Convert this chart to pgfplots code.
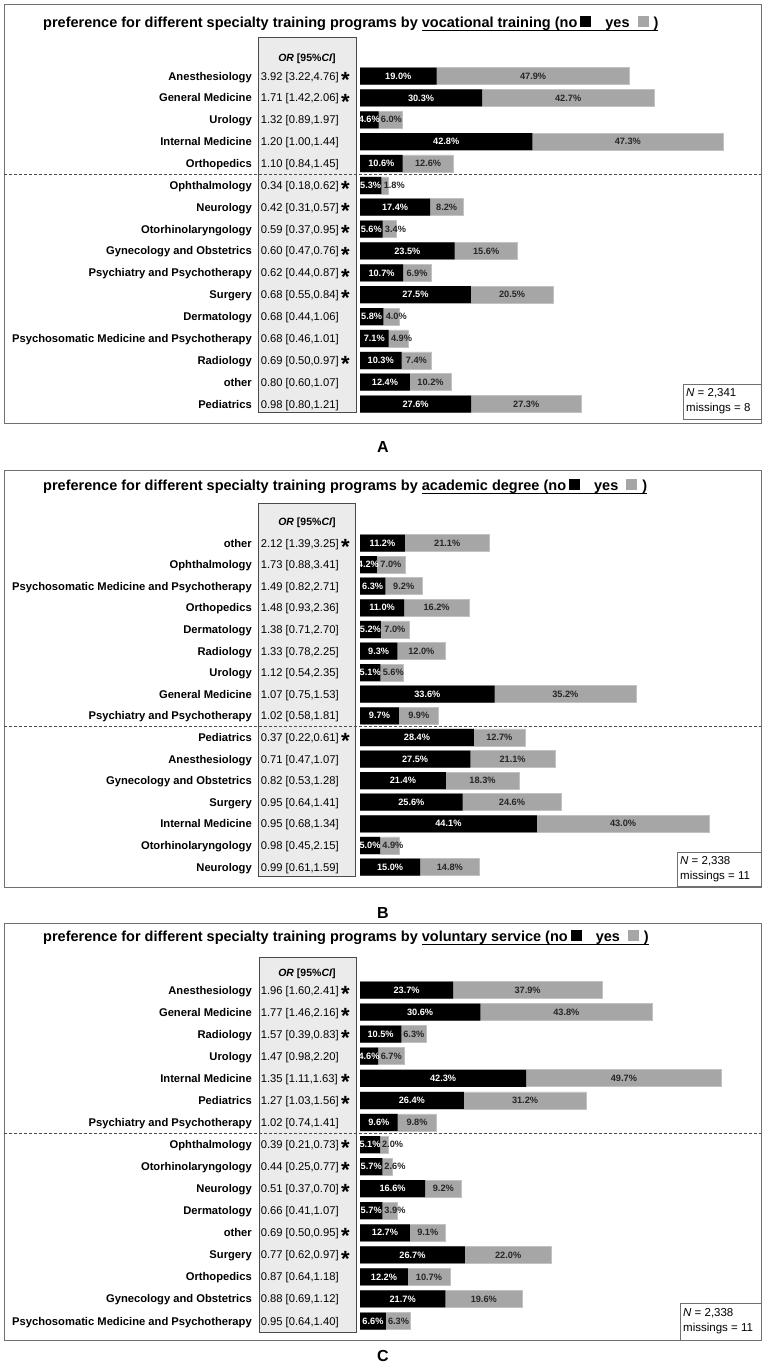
\documentclass[border=0pt]{standalone}
\usepackage{pgfplots}
\pgfplotsset{compat=1.18}
\usepackage{pgfplotstable}
\usepackage{fontspec}
\setmainfont{Liberation Sans}
\definecolor{barGray}{HTML}{A6A6A6}
\definecolor{barEdge}{HTML}{C2C2C2}
\definecolor{orFill}{HTML}{EBEBEB}
\definecolor{frame}{HTML}{707070}
\definecolor{orEdge}{HTML}{4A4A4A}
\newsavebox\ulbox
\newcommand{\ul}[1]{\sbox\ulbox{#1}\rlap{\rule[-3.5pt]{\wd\ulbox}{0.9pt}}\usebox\ulbox}
\newcommand{\st}{\raisebox{-7.2pt}[8pt][0pt]{\fontsize{22}{22}\selectfont\bfseries *}}
\newcommand{\R}[3]{\fontsize{11.2}{13}\selectfont\bfseries #1\hspace{9pt}\makebox[89pt][l]{\mdseries #2\hfill#3}}
\newcommand{\sq}[1]{\textcolor{#1}{\rule{11pt}{11pt}}}
\newcommand{\ttl}[1]{\fontsize{14.5}{16}\selectfont\bfseries preference for different specialty training programs by \ul{#1 (no\hspace{3pt}\sq{black}\hspace{14pt}yes\hspace{8pt}\sq{barGray}\hspace{5pt})}}
\newcommand{\orh}{\fontsize{10.5}{12}\selectfont\bfseries\textit{OR} [95\%\textit{CI}]}

\pgfplotstableread{
no yes
19.0 47.9
30.3 42.7
4.6 6.0
42.8 47.3
10.6 12.6
5.3 1.8
17.4 8.2
5.6 3.4
23.5 15.6
10.7 6.9
27.5 20.5
5.8 4.0
7.1 4.9
10.3 7.4
12.4 10.2
27.6 27.3
}\tA
\pgfplotstableread{
no yes
11.2 21.1
4.2 7.0
6.3 9.2
11.0 16.2
5.2 7.0
9.3 12.0
5.1 5.6
33.6 35.2
9.7 9.9
28.4 12.7
27.5 21.1
21.4 18.3
25.6 24.6
44.1 43.0
5.0 4.9
15.0 14.8
}\tB
\pgfplotstableread{
no yes
23.7 37.9
30.6 43.8
10.5 6.3
4.6 6.7
42.3 49.7
26.4 31.2
9.6 9.8
5.1 2.0
5.7 2.6
16.6 9.2
5.7 3.9
12.7 9.1
26.7 22.0
12.2 10.7
21.7 19.6
6.6 6.3
}\tC

\pgfplotsset{
  panel/.style={
    anchor=north west, scale only axis,
    xmin=0, xmax=100, ymin=-0.5, ymax=15.5, y dir=reverse,
    enlargelimits=false, clip=false,
    axis line style={draw=none},
    xtick=\empty, ytick={0,...,15}, major tick length=0pt,
    yticklabel style={anchor=east, inner sep=0pt, xshift=-10pt, text height=8pt, text depth=0pt},
  },
  graybar/.style={xbar, bar width=17pt, bar shift=0pt, fill=barGray, draw=barEdge, line width=0.6pt},
  blackbar/.style={xbar, bar width=17pt, bar shift=0pt, fill=black, draw=none},
  pct/.style={nodes near coords={\pgfmathprintnumber[fixed,fixed zerofill,precision=1,assume math mode=true]{\pgfplotspointmeta}\%}},
  nolab/.style={only marks, mark=none, point meta=\thisrow{no}, pct,
    every node near coord/.append style={anchor=center, text=white, font=\fontsize{9.2}{10}\selectfont\bfseries, inner sep=0pt}},
  yeslab/.style={only marks, mark=none, point meta=\thisrow{yes}, pct,
    every node near coord/.append style={anchor=center, text=black!85, font=\fontsize{9.2}{10}\selectfont\bfseries, inner sep=0pt}},
}

\begin{document}
\begin{tikzpicture}
\useasboundingbox (0pt,0pt) rectangle (767pt,-1366pt);
\begin{scope}[x=1pt,y=-1pt]
% ---------- panel A decorations
\draw[frame, line width=1pt] (4,4) rectangle (761,423);
\draw[draw=orEdge, fill=orFill, line width=1pt] (258,37) rectangle (356,412);
\node[anchor=base west, inner sep=0pt] at (43,27) {\ttl{vocational training}};
\node[anchor=base, inner sep=0pt] at (307,61) {\orh};
\draw[orEdge, line width=0.8pt, dash pattern=on 3pt off 2pt] (4,174.4) -- (761,174.4);
\draw[frame, line width=0.8pt] (683,384) rectangle (761,419);
\node[anchor=west, align=left, inner sep=0pt, font=\fontsize{11.5}{15}\selectfont] at (686,401.5) {\textit{N} = 2,341\\missings = 8};
\node[anchor=base, inner sep=0pt, font=\fontsize{16}{16}\selectfont\bfseries] at (383,452.5) {A};
% ---------- panel B decorations
\draw[frame, line width=1pt] (4,470) rectangle (761,887);
\draw[draw=orEdge, fill=orFill, line width=1pt] (258,503) rectangle (355,876);
\node[anchor=base west, inner sep=0pt] at (43,490) {\ttl{academic degree}};
\node[anchor=base, inner sep=0pt] at (307,525) {\orh};
\draw[orEdge, line width=0.8pt, dash pattern=on 3pt off 2pt] (4,726.6) -- (761,726.6);
\draw[frame, line width=0.8pt] (677,852) rectangle (761,886);
\node[anchor=west, align=left, inner sep=0pt, font=\fontsize{11.5}{15}\selectfont] at (680,869) {\textit{N} = 2,338\\missings = 11};
\node[anchor=base, inner sep=0pt, font=\fontsize{16}{16}\selectfont\bfseries] at (383,918.5) {B};
% ---------- panel C decorations
\draw[frame, line width=1pt] (4,923) rectangle (761,1340);
\draw[draw=orEdge, fill=orFill, line width=1pt] (259,957) rectangle (356,1332);
\node[anchor=base west, inner sep=0pt] at (43,941) {\ttl{voluntary service}};
\node[anchor=base, inner sep=0pt] at (307,976) {\orh};
\draw[orEdge, line width=0.8pt, dash pattern=on 3pt off 2pt] (4,1133.5) -- (761,1133.5);
\draw[frame, line width=0.8pt] (680,1303) rectangle (761,1340);
\node[anchor=west, align=left, inner sep=0pt, font=\fontsize{11.5}{15}\selectfont] at (683,1321.5) {\textit{N} = 2,338\\missings = 11};
\node[anchor=base, inner sep=0pt, font=\fontsize{16}{16}\selectfont\bfseries] at (383,1361.5) {C};
\end{scope}

% ================= Panel A
\begin{axis}[panel, at={(360pt,-65.07pt)}, width=403pt, height=349.92pt,
  yticklabels={
    {\R{Anesthesiology}{3.92 [3.22,4.76]}{\st}},
    {\R{General Medicine}{1.71 [1.42,2.06]}{\st}},
    {\R{Urology}{1.32 [0.89,1.97]}{}},
    {\R{Internal Medicine}{1.20 [1.00,1.44]}{}},
    {\R{Orthopedics}{1.10 [0.84,1.45]}{}},
    {\R{Ophthalmology}{0.34 [0.18,0.62]}{\st}},
    {\R{Neurology}{0.42 [0.31,0.57]}{\st}},
    {\R{Otorhinolaryngology}{0.59 [0.37,0.95]}{\st}},
    {\R{Gynecology and Obstetrics}{0.60 [0.47,0.76]}{\st}},
    {\R{Psychiatry and Psychotherapy}{0.62 [0.44,0.87]}{\st}},
    {\R{Surgery}{0.68 [0.55,0.84]}{\st}},
    {\R{Dermatology}{0.68 [0.44,1.06]}{}},
    {\R{Psychosomatic Medicine and Psychotherapy}{0.68 [0.46,1.01]}{}},
    {\R{Radiology}{0.69 [0.50,0.97]}{\st}},
    {\R{other}{0.80 [0.60,1.07]}{}},
    {\R{Pediatrics}{0.98 [0.80,1.21]}{}}
  }]
\addplot[graybar] table[x expr=\thisrow{no}+\thisrow{yes}, y expr=\coordindex]{\tA};
\addplot[blackbar] table[x=no, y expr=\coordindex]{\tA};
\addplot[nolab] table[x expr=\thisrow{no}/2, y expr=\coordindex]{\tA};
\addplot[yeslab] table[x expr={max(\thisrow{no}+\thisrow{yes}/2,\thisrow{no}+3.2)}, y expr=\coordindex]{\tA};
\end{axis}

% ================= Panel B
\begin{axis}[panel, at={(360pt,-532.2pt)}, width=401pt, height=345.6pt,
  yticklabels={
    {\R{other}{2.12 [1.39,3.25]}{\st}},
    {\R{Ophthalmology}{1.73 [0.88,3.41]}{}},
    {\R{Psychosomatic Medicine and Psychotherapy}{1.49 [0.82,2.71]}{}},
    {\R{Orthopedics}{1.48 [0.93,2.36]}{}},
    {\R{Dermatology}{1.38 [0.71,2.70]}{}},
    {\R{Radiology}{1.33 [0.78,2.25]}{}},
    {\R{Urology}{1.12 [0.54,2.35]}{}},
    {\R{General Medicine}{1.07 [0.75,1.53]}{}},
    {\R{Psychiatry and Psychotherapy}{1.02 [0.58,1.81]}{}},
    {\R{Pediatrics}{0.37 [0.22,0.61]}{\st}},
    {\R{Anesthesiology}{0.71 [0.47,1.07]}{}},
    {\R{Gynecology and Obstetrics}{0.82 [0.53,1.28]}{}},
    {\R{Surgery}{0.95 [0.64,1.41]}{}},
    {\R{Internal Medicine}{0.95 [0.68,1.34]}{}},
    {\R{Otorhinolaryngology}{0.98 [0.45,2.15]}{}},
    {\R{Neurology}{0.99 [0.61,1.59]}{}}
  }]
\addplot[graybar] table[x expr=\thisrow{no}+\thisrow{yes}, y expr=\coordindex]{\tB};
\addplot[blackbar] table[x=no, y expr=\coordindex]{\tB};
\addplot[nolab] table[x expr=\thisrow{no}/2, y expr=\coordindex]{\tB};
\addplot[yeslab] table[x expr={max(\thisrow{no}+\thisrow{yes}/2,\thisrow{no}+3.2)}, y expr=\coordindex]{\tB};
\end{axis}

% ================= Panel C
\begin{axis}[panel, at={(360pt,-978.97pt)}, width=393pt, height=353.1pt,
  yticklabels={
    {\R{Anesthesiology}{1.96 [1.60,2.41]}{\st}},
    {\R{General Medicine}{1.77 [1.46,2.16]}{\st}},
    {\R{Radiology}{1.57 [0.39,0.83]}{\st}},
    {\R{Urology}{1.47 [0.98,2.20]}{}},
    {\R{Internal Medicine}{1.35 [1.11,1.63]}{\st}},
    {\R{Pediatrics}{1.27 [1.03,1.56]}{\st}},
    {\R{Psychiatry and Psychotherapy}{1.02 [0.74,1.41]}{}},
    {\R{Ophthalmology}{0.39 [0.21,0.73]}{\st}},
    {\R{Otorhinolaryngology}{0.44 [0.25,0.77]}{\st}},
    {\R{Neurology}{0.51 [0.37,0.70]}{\st}},
    {\R{Dermatology}{0.66 [0.41,1.07]}{}},
    {\R{other}{0.69 [0.50,0.95]}{\st}},
    {\R{Surgery}{0.77 [0.62,0.97]}{\st}},
    {\R{Orthopedics}{0.87 [0.64,1.18]}{}},
    {\R{Gynecology and Obstetrics}{0.88 [0.69,1.12]}{}},
    {\R{Psychosomatic Medicine and Psychotherapy}{0.95 [0.64,1.40]}{}}
  }]
\addplot[graybar] table[x expr=\thisrow{no}+\thisrow{yes}, y expr=\coordindex]{\tC};
\addplot[blackbar] table[x=no, y expr=\coordindex]{\tC};
\addplot[nolab] table[x expr=\thisrow{no}/2, y expr=\coordindex]{\tC};
\addplot[yeslab] table[x expr={max(\thisrow{no}+\thisrow{yes}/2,\thisrow{no}+3.2)}, y expr=\coordindex]{\tC};
\end{axis}
\end{tikzpicture}
\end{document}
